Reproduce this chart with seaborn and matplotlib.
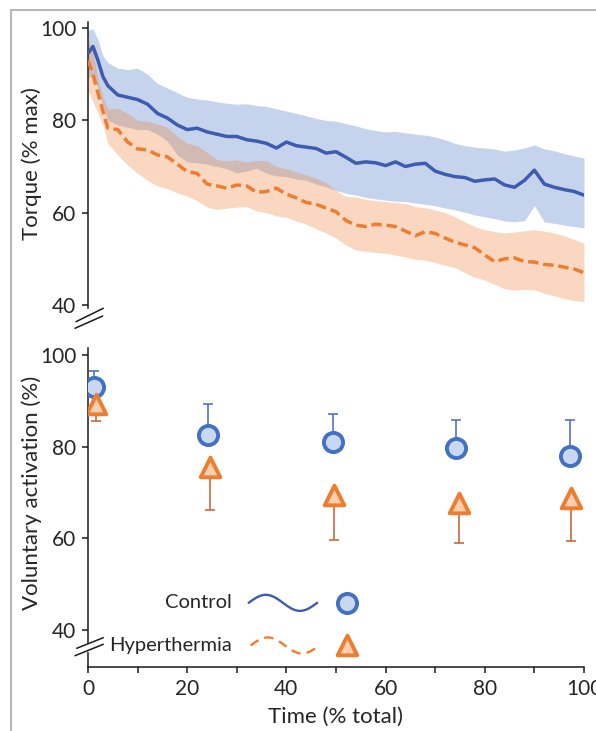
import numpy as np
import pandas as pd
import matplotlib
matplotlib.use("Agg")
import matplotlib.pyplot as plt
import seaborn as sns
from matplotlib.lines import Line2D
from matplotlib.patches import Rectangle
from matplotlib.ticker import MultipleLocator

# ---- torque time course (% of total time) ----
time = [0, 1, 2, 3, 4, 6, 8, 10, 12, 14, 16, 18, 20, 22, 24, 26, 28, 30, 32, 34, 36, 38, 40,
        42, 44, 46, 48, 50, 52, 54, 56, 58, 60, 62, 64, 66, 68, 70, 72, 74, 76, 78, 80,
        82, 84, 86, 88, 90, 92, 94, 96, 98, 100]

ctrl_mean = [94.5, 96, 93, 89.5, 87.5, 85.5, 85, 84.5, 83.5, 81.5, 80.5, 79, 78, 78.3, 77.5,
             77, 76.5, 76.5, 75.8, 75.5, 75, 74, 75.3, 74.5, 74.2, 73.9, 72.9, 73.2, 72, 70.7,
             71, 70.8, 70.2, 71, 70, 70.5, 70.7, 69, 68.3, 67.8, 67.6, 66.8, 67.1, 67.3, 66,
             65.5, 67, 69.2, 66.2, 65.5, 65, 64.6, 63.8]
ctrl_hi = [99.5, 99.8, 97.5, 94, 92.5, 91.3, 91, 91.3, 90, 88, 87, 86, 85, 84.6, 84.4, 84,
           83.7, 83.5, 83.6, 83.2, 83, 82.5, 82, 81.5, 81, 80.4, 80, 79.8, 79.3, 78.8, 78.2,
           77.8, 77.5, 77.6, 77.3, 77, 76.8, 76.4, 75.8, 75, 74.5, 74.2, 74, 73.8, 73.3, 73.6,
           74, 74.7, 73.8, 73.4, 72.8, 72.3, 71.8]
ctrl_lo = [89, 90, 87, 83, 80, 79, 78.5, 78, 78, 77, 75.5, 72.5, 71, 70.8, 70.5, 70, 69.5,
           68.6, 69, 69.6, 68.5, 68, 67.8, 67.3, 67, 66.2, 65.6, 64.8, 64.2, 63.8, 63.3, 63,
           62.7, 62.5, 62.4, 62.1, 61.8, 61.5, 61, 60.6, 60.1, 59.5, 59.1, 58.7, 58.2, 58,
           58.3, 61.5, 58, 57.7, 57.3, 57, 56.7]

hyp_mean = [93, 90, 86, 82, 78.3, 78, 75.3, 73.8, 73.6, 72.5, 72.1, 70.5, 68.9, 68.5, 66.2,
            65.8, 65.3, 66, 65.8, 64.4, 64.6, 65.3, 64, 63.2, 62.2, 61.8, 61, 60.2, 58.3, 57.3,
            57, 57.5, 57.3, 57, 56, 55, 55.9, 55.5, 54.5, 53.6, 53, 52.4, 50.8, 49.4, 50,
            50.2, 49.4, 49.3, 48.8, 48.6, 48.2, 47.8, 47]
hyp_hi = [97.5, 95, 89, 85, 82.5, 82.6, 81.5, 80, 79.8, 79.2, 78.5, 76.5, 75, 74.5, 73, 71.5,
          71.2, 71.4, 71, 71.3, 71.2, 70, 69.5, 68.8, 68.2, 67.4, 66.5, 64.8, 63.5, 63.4,
          62.9, 62.6, 62.4, 62.2, 62, 61.3, 61.1, 60.6, 60, 59.1, 58, 57, 56.3, 55.9, 55.6,
          55.8, 56.1, 56.3, 56, 55.6, 55, 54.2, 53.4]
hyp_lo = [86.5, 84, 81.5, 79, 75, 72.5, 70.3, 68.5, 67, 65.8, 65.2, 64.3, 63.6, 62.6, 61.2,
          60.7, 61, 61.2, 61.3, 60.4, 60, 59.3, 59, 58.2, 57.5, 56.5, 55.6, 54.5, 53, 51.9,
          51.6, 51.4, 51.2, 50.8, 50.4, 49.9, 49.7, 49.2, 48.6, 48.1, 47, 46, 45.4, 44.5,
          43.5, 43.2, 43.4, 43.3, 42.5, 42, 41.4, 41, 40.7]

# ---- voluntary activation ----
va_time_ctrl = [1.3, 24.2, 49.3, 74.2, 97.1]
va_ctrl = [92.9, 82.5, 80.9, 79.6, 78.0]
va_ctrl_sd = [3.5, 6.8, 6.1, 6.2, 7.8]
va_time_hyp = [1.7, 24.5, 49.5, 74.7, 97.4]
va_hyp = [89.3, 75.5, 69.4, 67.6, 68.7]
va_hyp_sd = [3.8, 9.3, 9.8, 8.6, 9.3]

groups = ["Control", "Hyperthermia"]

# colours
blue_line = "#3d5cb0"
blue_edge = "#4470c4"
blue_face = "#c8d8f0"
blue_err = "#5273c4"
orange = "#ED7D31"
orange_face = "#f9cfb0"
orange_err = "#c8693a"

sns.set_style("ticks")
plt.rcParams["font.family"] = ["Lato", "DejaVu Sans"]
plt.rcParams["font.size"] = 15

W, H = 596, 731
fig = plt.figure(figsize=(W / 100, H / 100), dpi=100)
fig.patch.set_facecolor("white")

ax1 = fig.add_axes([88 / W, 1 - 305 / H, 496 / W, 283 / H])
ax2 = fig.add_axes([88 / W, 1 - 667 / H, 496 / W, 319 / H])

# ---- top panel: torque ----
ax1.fill_between(time, ctrl_lo, ctrl_hi, color=blue_edge, alpha=0.3, lw=0, zorder=1)
ax1.fill_between(time, hyp_lo, hyp_hi, color=orange, alpha=0.3, lw=0, zorder=1)

torque = pd.DataFrame({"time": time * 2,
                       "torque": ctrl_mean + hyp_mean,
                       "group": [groups[0]] * len(time) + [groups[1]] * len(time)})
sns.lineplot(data=torque, x="time", y="torque", hue="group", style="group",
             palette={groups[0]: blue_line, groups[1]: orange},
             dashes={groups[0]: "", groups[1]: (3, 1.4)},
             estimator=None, linewidth=2.5, legend=False, ax=ax1, zorder=3)

ax1.set_xlim(0, 100)
ax1.set_ylim(40, 101.3)
ax1.set_yticks([40, 60, 80, 100])
ax1.set_ylabel("Torque (% max)", fontsize=16)
ax1.set_xlabel("")
ax1.yaxis.set_label_coords(-0.093, 0.5)
for s in ["top", "right", "bottom"]:
    ax1.spines[s].set_visible(False)
ax1.spines["left"].set_bounds(39.3, 101.3)
ax1.tick_params(axis="x", bottom=False, labelbottom=False)

# ---- bottom panel: voluntary activation ----
ax2.errorbar(va_time_ctrl, va_ctrl, yerr=[np.zeros(len(va_ctrl)), va_ctrl_sd], fmt="none",
             ecolor=blue_err, elinewidth=1.2, capsize=3.5, capthick=1.2, zorder=1)
ax2.errorbar(va_time_hyp, va_hyp, yerr=[va_hyp_sd, np.zeros(len(va_hyp))], fmt="none",
             ecolor=orange_err, elinewidth=1.2, capsize=3.5, capthick=1.2, zorder=1)
sns.scatterplot(x=va_time_ctrl, y=va_ctrl, marker="o", s=190, color=blue_face,
                edgecolor=blue_edge, linewidth=2.8, zorder=3, legend=False, ax=ax2)
sns.scatterplot(x=va_time_hyp, y=va_hyp, marker="^", s=200, color=orange_face,
                edgecolor=orange, linewidth=2.8, zorder=3, legend=False, ax=ax2)

ax2.set_xlim(0, 100)
ax2.set_ylim(31.9, 101.5)
ax2.set_yticks([40, 60, 80, 100])
ax2.set_xticks([0, 20, 40, 60, 80, 100])
ax2.xaxis.set_minor_locator(MultipleLocator(10))
ax2.set_ylabel("Voluntary activation (%)", fontsize=16)
ax2.set_xlabel("Time (% total)", fontsize=16)
ax2.yaxis.set_label_coords(-0.093, 0.545)
ax2.xaxis.set_label_coords(0.5, -0.125)
for s in ["top", "right"]:
    ax2.spines[s].set_visible(False)

# legend drawn by hand inside the lower panel
wave = np.linspace(0, 2 * np.pi, 60)
wx = np.linspace(32.4, 46.2, 60)
ax2.plot(wx, 45.9 + 1.75 * np.sin(wave), color=blue_line, lw=1.7, zorder=3)
ax2.plot(wx + 0.4, 36.6 + 1.75 * np.sin(wave), color=orange, lw=1.7,
         dashes=(4, 2.6), zorder=3)
sns.scatterplot(x=[52.2], y=[45.8], marker="o", s=190, color=blue_face,
                edgecolor=blue_edge, linewidth=2.8, zorder=3, legend=False, ax=ax2)
sns.scatterplot(x=[52.3], y=[36.7], marker="^", s=200, color=orange_face,
                edgecolor=orange, linewidth=2.8, zorder=3, legend=False, ax=ax2)
ax2.text(29.0, 45.9, "Control", ha="right", va="center", fontsize=14.5)
ax2.text(29.0, 36.6, "Hyperthermia", ha="right", va="center", fontsize=14.5)

for ax in (ax1, ax2):
    for s in ["left", "bottom"]:
        ax.spines[s].set_linewidth(1.1)
        ax.spines[s].set_color("#1a1a1a")
    ax.tick_params(which="both", direction="out", length=4.5, width=1.1,
                   color="#1a1a1a", labelsize=15, pad=4)
    ax.set_facecolor("none")

# axis break marks
def brk(x0, y0, x1, y1, **kw):
    fig.add_artist(Line2D([x0 / W, x1 / W], [1 - y0 / H, 1 - y1 / H],
                          transform=fig.transFigure, **kw))

brk(88.3, 644, 88.3, 650, color="white", lw=2.5)
for (x0, y0, x1, y1) in [(76, 321.7, 103.3, 308.3), (75, 328.3, 102.7, 316),
                         (76.7, 648.3, 103.3, 637.7), (75, 655.7, 103.3, 644.3)]:
    brk(x0, y0, x1, y1, color="#1a1a1a", lw=1.1)

# light grey frame around the figure
fig.add_artist(Rectangle((11 / W, -0.05), 1.2, 1.05 - 10 / H, transform=fig.transFigure,
                         fill=False, ec="#b0b0b0", lw=1.3))

fig.savefig("out.png", dpi=100)
